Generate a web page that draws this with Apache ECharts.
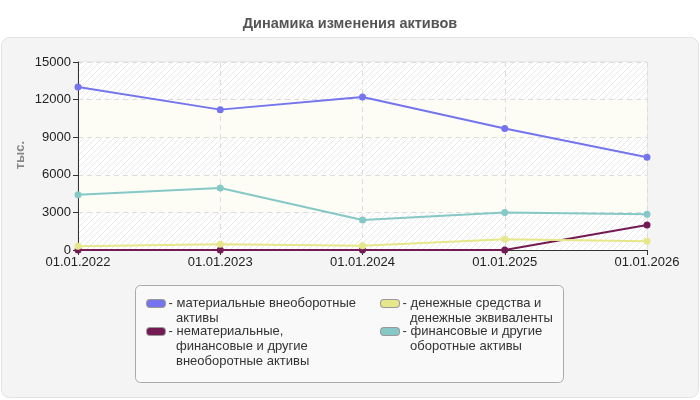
<!DOCTYPE html>
<html>
<head>
<meta charset="utf-8">
<script src="https://cdn.jsdelivr.net/npm/echarts@6/dist/echarts.min.js"></script>
<style>
  html, body { margin: 0; padding: 0; background: #fff; }
  #chart { width: 700px; height: 400px; }
</style>
</head>
<body>
<div id="chart"></div>
<script>
// даты отчётов
var dates = ['01.01.2022', '01.01.2023', '01.01.2024', '01.01.2025', '01.01.2026'];
// значения, тыс.
var tangible = [13000, 11200, 12200, 9700, 7400];
var intangible = [0, 0, 0, 0, 2000];
var cash = [300, 450, 330, 850, 700];
var financial = [4400, 4950, 2400, 3000, 2850];
var yTicks = [0, 3000, 6000, 9000, 12000, 15000];

var names = [
    'материальные внеоборотные активы',
    'нематериальные, финансовые и другие внеоборотные активы',
    'денежные средства и денежные эквиваленты',
    'финансовые и другие оборотные активы'
];
// переносы строк как в легенде оригинала
var legendLines = [
    ['материальные внеоборотные', 'активы'],
    ['нематериальные,', 'финансовые и другие', 'внеоборотные активы'],
    ['денежные средства и', 'денежные эквиваленты'],
    ['финансовые и другие', 'оборотные активы']
];
var colors = ['#7474ee', '#741a52', '#e6e68a', '#86c8c6'];

// штриховка для полос фона
function hatch() {
    var c = document.createElement('canvas');
    c.width = 6; c.height = 6;
    var ctx = c.getContext('2d');
    ctx.fillStyle = '#ffffff';
    ctx.fillRect(0, 0, 6, 6);
    ctx.strokeStyle = '#e8e8e8';
    ctx.lineWidth = 1;
    ctx.beginPath();
    ctx.moveTo(0, 6); ctx.lineTo(6, 0);
    ctx.moveTo(-1, 1); ctx.lineTo(1, -1);
    ctx.moveTo(5, 7); ctx.lineTo(7, 5);
    ctx.stroke();
    return c;
}

var rich = {
    t: { fontSize: 13, color: '#333', lineHeight: 15, fontFamily: 'Liberation Sans' },
    sp: { width: 29, height: 8 }
};
colors.forEach(function (col, i) {
    rich['ic' + i] = {
        width: 18, height: 7, backgroundColor: col,
        borderColor: '#999', borderWidth: 1, borderRadius: 3
    };
});

function legendFmt(name) {
    var i = names.indexOf(name);
    var lines = legendLines[i];
    var s = '{ic' + i + '|}{t| - ' + lines[0] + '}';
    for (var k = 1; k < lines.length; k++) {
        s += '\n{sp|}{t|' + lines[k] + '}';
    }
    return s;
}

function mkSeries(i, data) {
    return {
        name: names[i],
        type: 'line',
        data: data,
        symbol: 'circle',
        symbolSize: 7,
        lineStyle: { width: 2, color: colors[i] },
        itemStyle: { color: colors[i] },
        animation: false
    };
}

var legendBase = {
    orient: 'vertical',
    padding: 0,
    itemWidth: 0, itemHeight: 0, icon: 'none',
    itemGap: 0,
    selectedMode: false,
    formatter: legendFmt,
    textStyle: { rich: rich }
};

var chart = echarts.init(document.getElementById('chart'));
chart.setOption({
    animation: false,
    textStyle: { fontFamily: 'Liberation Sans' },
    title: {
        text: 'Динамика изменения активов',
        left: 'center',
        top: 11,
        textStyle: { fontSize: 14.5, fontWeight: 'bold', color: '#555' }
    },
    graphic: [{
        type: 'rect',
        z: -10,
        shape: { x: 1.5, y: 37.5, width: 697, height: 360, r: 8 },
        style: { fill: '#f4f4f4', stroke: '#e2e2e2', lineWidth: 1 }
    }, {
        type: 'rect',
        z: -5,
        shape: { x: 135.5, y: 285.5, width: 428, height: 97, r: 5 },
        style: { fill: '#f9f9f9', stroke: '#aaaaaa', lineWidth: 1 }
    }, {
        type: 'text',
        left: 14,
        top: 141,
        rotation: Math.PI / 2,
        style: { text: 'тыс.', fontSize: 13, fontWeight: 'bold', fill: '#888', fontFamily: 'Liberation Sans' }
    }],
    grid: {
        left: 78, right: 53, top: 62, bottom: 150,
        show: true, borderColor: '#dddddd', borderWidth: 1, backgroundColor: 'transparent'
    },
    legend: [
        Object.assign({}, legendBase, { data: [names[0], names[1]], left: 142, top: 297 }),
        Object.assign({}, legendBase, { data: [names[2], names[3]], left: 376, top: 297 })
    ],
    xAxis: {
        type: 'category',
        data: dates,
        boundaryGap: false,
        axisLine: { lineStyle: { color: '#333', width: 1 } },
        axisTick: { show: true, alignWithLabel: true, length: 5, lineStyle: { color: '#333' } },
        axisLabel: { color: '#222', fontSize: 13, margin: 6, interval: 0 },
        splitLine: { show: true, lineStyle: { color: '#dddddd', type: [5, 4] } }
    },
    yAxis: {
        type: 'value',
        min: yTicks[0],
        max: yTicks[yTicks.length - 1],
        interval: 3000,
        axisLine: { show: true, lineStyle: { color: '#333', width: 1 } },
        axisTick: { show: true, length: 5, lineStyle: { color: '#333' } },
        axisLabel: { color: '#222', fontSize: 13, margin: 7, formatter: function (v) { return String(v); } },
        splitLine: { show: true, lineStyle: { color: '#dddddd', type: [5, 4] } },
        splitArea: {
            show: true,
            areaStyle: { color: [{ image: hatch(), repeat: 'repeat' }, '#fdfdf6'] }
        }
    },
    series: [
        mkSeries(0, tangible),
        mkSeries(1, intangible),
        mkSeries(2, cash),
        mkSeries(3, financial)
    ]
});
</script>
</body>
</html>
